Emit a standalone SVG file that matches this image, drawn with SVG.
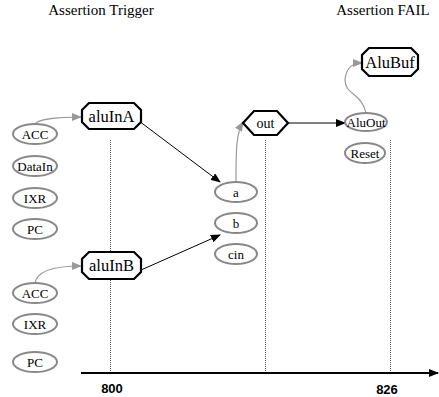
<svg xmlns="http://www.w3.org/2000/svg" width="439" height="397" viewBox="0 0 439 397">
<style>
.bg{fill:#fff}
.ell{fill:#fff;stroke:#888;stroke-width:2}
.oct{fill:#fff;stroke:#000;stroke-width:2.2}
.t{fill:#000;text-anchor:middle}
.s{font-size:13px}
.o{font-size:14px}
.m{font-size:16.5px}
.h{font-size:15px}
.num{font-weight:bold;font-size:13px;text-anchor:middle;fill:#000}
.dot{stroke:#555;stroke-width:1;stroke-dasharray:1,1;fill:none}
.blk{stroke:#000;stroke-width:1;fill:none}
.gry{stroke:#999;stroke-width:1.2;fill:none}
</style>
<defs>
<marker id="ab" markerWidth="10" markerHeight="8" refX="9" refY="4" orient="auto" markerUnits="userSpaceOnUse"><path d="M0,0 L10,4 L0,8 z" fill="#000"/></marker>
<marker id="ag" markerWidth="10" markerHeight="8" refX="9" refY="4" orient="auto" markerUnits="userSpaceOnUse"><path d="M0,0 L10,4 L0,8 z" fill="#999"/></marker>
<marker id="ax" markerWidth="10" markerHeight="8" refX="9" refY="4" orient="auto" markerUnits="userSpaceOnUse"><path d="M0,0 L10,4 L0,8 z" fill="#000"/></marker>
</defs>
<rect class="bg" width="439" height="397"/>
<g font-family="'Liberation Serif', 'Times New Roman', 'DejaVu Serif', serif">
<text class="t h" x="101" y="15">Assertion Trigger</text>
<text class="t h" x="383" y="15">Assertion FAIL</text>
</g>
<g id="axis">
<line x1="110.5" y1="140" x2="110.5" y2="372" class="dot"/>
<line x1="265.5" y1="140" x2="265.5" y2="372" class="dot"/>
<line x1="390.5" y1="140" x2="390.5" y2="372" class="dot"/>
<line x1="81" y1="373" x2="438" y2="373" stroke="#000" stroke-width="2" marker-end="url(#ax)"/>
<g font-family="'Liberation Sans', Arial, sans-serif">
<text class="num" x="112" y="393">800</text>
<text class="num" x="387" y="394">826</text>
</g>
</g>
<g id="connectors">
<path class="gry" d="M35,124 C38,119 60,117 81,117" marker-end="url(#ag)"/>
<path class="gry" d="M35,284 C36,270 56,266 81,266" marker-end="url(#ag)"/>
<path class="blk" d="M139,121 L220,182" marker-end="url(#ab)"/>
<path class="blk" d="M141,270 L220,235" marker-end="url(#ab)"/>
<path class="gry" d="M236,182 C236,150 236,134 243,122" marker-end="url(#ag)"/>
<path class="blk" d="M288,123 L345,123" marker-end="url(#ab)"/>
<path class="gry" d="M366,113 C362,93 345,95 345,80 C346,68 352,63 362,63" marker-end="url(#ag)"/>
</g>
<g font-family="'Liberation Serif', 'Times New Roman', 'DejaVu Serif', serif">
<g id="ACC1"><ellipse class="ell" cx="35" cy="134" rx="22" ry="10"/><text class="t s" x="35" y="138.5">ACC</text></g>
<g id="DataIn"><ellipse class="ell" cx="35" cy="166" rx="22" ry="10"/><text class="t s" x="35" y="170.5">DataIn</text></g>
<g id="IXR1"><ellipse class="ell" cx="35" cy="198" rx="22" ry="10"/><text class="t s" x="35" y="202.5">IXR</text></g>
<g id="PC1"><ellipse class="ell" cx="35" cy="229" rx="22" ry="10"/><text class="t s" x="35" y="233.5">PC</text></g>
<g id="ACC2"><ellipse class="ell" cx="35" cy="293" rx="22" ry="10"/><text class="t s" x="35" y="297.5">ACC</text></g>
<g id="IXR2"><ellipse class="ell" cx="35" cy="324" rx="22" ry="10"/><text class="t s" x="35" y="328.5">IXR</text></g>
<g id="PC2"><ellipse class="ell" cx="35" cy="362" rx="22" ry="10"/><text class="t s" x="35" y="366.5">PC</text></g>
<g id="aluInA"><polygon class="oct" points="89,103 134,103 141,110 141,122 134,129 89,129 82,122 82,110"/><text class="t m" x="111.5" y="121.5">aluInA</text></g>
<g id="aluInB"><polygon class="oct" points="89,252 134,252 141,259 141,272 134,279 89,279 82,272 82,259"/><text class="t m" x="111.5" y="271">aluInB</text></g>
<g id="a"><ellipse class="ell" cx="236" cy="192" rx="21" ry="10"/><text class="t s" x="236" y="196.5">a</text></g>
<g id="b"><ellipse class="ell" cx="236" cy="223" rx="21" ry="10"/><text class="t s" x="236" y="227.5">b</text></g>
<g id="cin"><ellipse class="ell" cx="236" cy="254" rx="21" ry="10"/><text class="t s" x="236" y="258.5">cin</text></g>
<g id="out"><polygon class="oct" points="243,123 254,111 277,111 288,123 277,135 254,135"/><text class="t o" x="265.5" y="127.5">out</text></g>
<g id="AluOut"><ellipse class="ell" cx="366" cy="122" rx="21" ry="9"/><text class="t s" x="366" y="126.5">AluOut</text></g>
<g id="Reset"><ellipse class="ell" cx="365" cy="153" rx="20" ry="10"/><text class="t s" x="365" y="157.5">Reset</text></g>
<g id="AluBuf"><polygon class="oct" points="369,48 411,48 418,55 418,69 411,76 369,76 362,69 362,55"/><text class="t m" x="390" y="67.5">AluBuf</text></g>
</g>
</svg>
